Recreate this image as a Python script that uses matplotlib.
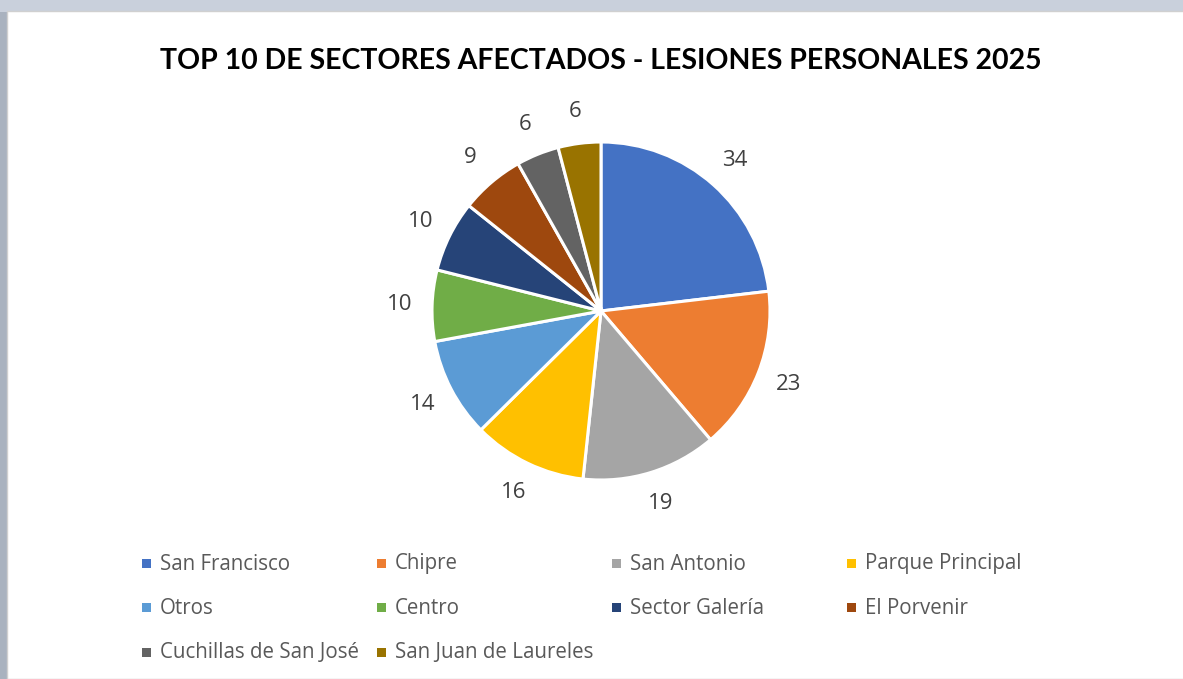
from matplotlib import pyplot as plt
from matplotlib.patches import Rectangle

# data -----------------------------------------------------------------------
sectores = ['San Francisco', 'Chipre', 'San Antonio', 'Parque Principal', 'Otros',
            'Centro', 'Sector Galería', 'El Porvenir', 'Cuchillas de San José',
            'San Juan de Laureles']
casos = [34, 23, 19, 16, 14, 10, 10, 9, 6, 6]
colores = ['#4472C4', '#ED7D31', '#A5A5A5', '#FFC000', '#5B9BD5',
           '#70AD47', '#264478', '#9E480E', '#636363', '#997300']
titulo = 'TOP 10 DE SECTORES AFECTADOS - LESIONES PERSONALES 2025'

W, H = 1183, 679


def px(x, y):
    # pixel (from top-left) -> figure fraction
    return x / W, 1 - y / H


# figure ---------------------------------------------------------------------
fig = plt.figure(figsize=(W / 100, H / 100), dpi=100, facecolor='#aeb6c4')
# blurred screenshot border and white chart area (behind everything)
fig.patches.append(Rectangle((0, 1 - 12 / H), 1, 12 / H, transform=fig.transFigure,
                             facecolor='#c9d0dc', edgecolor='none', zorder=-10))
fig.patches.append(Rectangle((0, 0), 8 / W, 1 - 12 / H, transform=fig.transFigure,
                             facecolor='#a9b2bf', edgecolor='none', zorder=-10))
fig.patches.append(Rectangle((7 / W, 0), 1, 1 - 11 / H, transform=fig.transFigure,
                             facecolor='white', edgecolor='#d0d0d0', linewidth=1,
                             zorder=-9))

fig.text(*px(601, 61), titulo, ha='center', va='center', fontsize=20.5,
         fontweight='bold', family='Lato', color='black')

# pie ------------------------------------------------------------------------
cx, cy, r = 601, 311, 169
ax = fig.add_axes([(cx - r) / W, (H - cy - r) / H, 2 * r / W, 2 * r / H])
ax.pie(casos, colors=colores, startangle=90, counterclock=False,
       labels=[str(v) for v in casos], labeldistance=1.19,
       wedgeprops=dict(edgecolor='white', linewidth=2.2),
       textprops=dict(fontsize=16, color='#404040', family='Open Sans',
                      ha='center', va='center'))
ax.set_xlim(-1, 1)
ax.set_ylim(-1, 1)
ax.set_aspect('equal')
ax.axis('off')

# legend (row-major, fixed columns) --------------------------------------------
col_x = [142, 377, 612, 847]
row_y = [564, 608, 653]
for i, (nombre, color) in enumerate(zip(sectores, colores)):
    x, y = col_x[i % 4], row_y[i // 4]
    fx, fy = px(x, y + 4)
    fig.patches.append(Rectangle((fx, fy), 9 / W, 9 / H, transform=fig.transFigure,
                                 facecolor=color, edgecolor='none'))
    fig.text(*px(x + 18, y), nombre, ha='left', va='center', fontsize=14.8,
             family='Open Sans', color='#595959')

fig.savefig('out.png', dpi=100, facecolor=fig.get_facecolor())
